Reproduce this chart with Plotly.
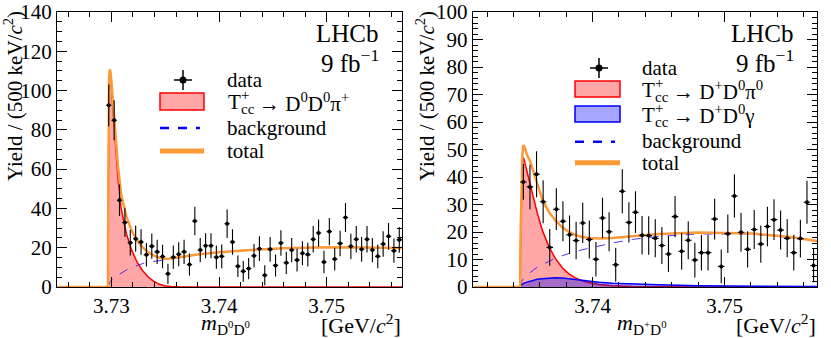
import plotly.graph_objects as go

# ---------------- data: left panel, m(D0 D0), 500 keV bins ----------------
BIN_W = 0.0005
first_bin_l = 3.72975
yield_l = [92.5, 84.9, 44.2, 32.8, 22.5, 24.6, 22.9, 16.4, 20.8, 17.9,
           15.5, 6.7, 15.2, 16.7, 17.9, 11.4, 33.6, 18.8, 21.0, 21.0,
           15.2, 15.6, 32.2, 22.9, 10.6, 8.0, 9.4, 15.9, 19.5, 6.0,
           19.2, 11.0, 22.4, 12.3, 18.8, 13.7, 17.2, 16.5, 24.3, 27.5,
           12.7, 28.2, 14.2, 22.2, 35.4, 20.7, 24.3, 19.2, 24.3, 18.8,
           15.6, 21.9, 25.8, 18.5, 24.0]
err_l = [10.6, 10.2, 8.0, 7.3, 6.5, 6.7, 6.5, 6.0, 6.4, 6.2,
         6.0, 5.2, 5.9, 6.1, 6.2, 5.6, 7.3, 6.2, 6.4, 6.4,
         5.9, 6.0, 7.2, 6.5, 5.5, 5.3, 5.4, 6.0, 6.3, 5.1,
         6.3, 5.6, 6.5, 5.7, 6.2, 5.8, 6.1, 6.0, 6.7, 6.9,
         5.7, 6.9, 5.8, 6.5, 7.4, 6.4, 6.7, 6.3, 6.7, 6.2,
         6.0, 6.5, 6.8, 6.2, 6.6]

# fit curves, left panel
curve_x_l = [3.7250, 3.72968, 3.72970, 3.72974, 3.72978, 3.72984, 3.72990, 3.7300,
             3.7302, 3.7304, 3.7306, 3.7309, 3.7314, 3.7319, 3.7324, 3.7329,
             3.7334, 3.7339, 3.7344, 3.7349, 3.7355, 3.7365, 3.7380, 3.7400,
             3.7430, 3.7460, 3.7500, 3.7535, 3.7570]
sig_l = [0, 0, 38, 88, 104, 108.5, 107, 101, 86, 70, 56, 40, 27, 18.5, 12.5,
         8.3, 5.2, 3.0, 1.5, 0.6, 0.2, 0, 0, 0, 0, 0, 0, 0, 0]
bkg_l = [0, 0, 0.5, 1.2, 1.7, 2.3, 2.8, 3.5, 4.5, 5.3, 6.0, 7.2, 8.7, 10.0, 11.0,
         11.9, 12.6, 13.1, 13.5, 13.8, 14.3, 15.3, 16.5, 17.7, 18.9, 19.7, 20.2, 20.1, 19.8]
tot_l = [0, 0, 38.5, 89.2, 105.7, 110.8, 109.8, 104.5, 90.5, 75.3, 62.0, 47.2, 35.7,
         28.5, 23.5, 20.2, 17.8, 16.1, 15.0, 14.4, 14.5, 15.3, 16.5, 17.7, 18.9,
         19.7, 20.2, 20.1, 19.8]

# ---------------- data: right panel, m(D+ D0) ----------------
first_bin_r = 3.73475
yield_r = [38.2, 36.4, 41.0, 31.0, 14.4, 28.3, 23.9, 19.0, 16.9, 23.3,
           17.3, 10.1, 25.1, 20.1, 8.1, 34.8, 23.5, 27.2, 18.8, 18.7,
           17.7, 15.1, 12.0, 25.6, 13.0, 17.0, 9.8, 12.5, 12.5, 24.7,
           7.5, 19.4, 33.1, 19.9, 13.7, 20.9, 15.6, 22.0, 24.5, 20.7,
           17.7, 12.5, 17.6, 30.8, 7.8]
err_r = [6.5, 8.1, 8.4, 7.8, 6.7, 7.6, 7.3, 7.0, 6.8, 7.3,
         6.9, 6.3, 7.4, 7.1, 6.2, 8.0, 7.3, 7.6, 7.0, 7.0,
         6.9, 6.7, 6.5, 7.5, 6.6, 6.9, 6.3, 6.5, 6.5, 7.4,
         6.1, 7.0, 7.9, 7.1, 6.6, 7.1, 6.8, 7.2, 7.4, 7.1,
         6.9, 6.5, 6.9, 7.8, 6.1]

curve_x_r = [3.7310, 3.73449, 3.73450, 3.73455, 3.73462, 3.73468, 3.73474, 3.73480,
             3.73490, 3.73505, 3.73525, 3.73550, 3.73580, 3.73620, 3.73670, 3.73720,
             3.73770, 3.73820, 3.73870, 3.73920, 3.73970, 3.74050, 3.74150, 3.74300,
             3.74500, 3.74800, 3.75200, 3.75500, 3.75700]
sig_pi_r = [0, 0, 0, 20, 37, 44.5, 47, 46.5, 44.5, 41.5, 38.5, 33.5, 27, 20.5, 14.5,
            10.2, 7.0, 4.8, 3.3, 2.3, 1.6, 0.9, 0.45, 0.15, 0.05, 0, 0, 0, 0]
sig_gam_r = [0, 0, 0, 0.6, 0.9, 1.1, 1.3, 1.4, 1.6, 1.8, 2.1, 2.4, 2.8, 3.0, 3.3,
             3.4, 3.3, 3.0, 2.7, 2.4, 2.1, 1.7, 1.4, 1.1, 0.8, 0.5, 0.3, 0.2, 0.15]
bkg_r = [0, 0, 0, 1.2, 2.0, 2.6, 3.0, 3.4, 3.9, 4.5, 5.3, 6.2, 7.2, 8.2, 9.4,
         10.5, 11.4, 12.2, 12.9, 13.5, 14.1, 15.0, 16.0, 17.3, 18.4, 19.3, 19.2, 18.0, 16.6]
tot_r = [0, 0, 0, 21.8, 39.9, 48.2, 51.3, 51.3, 50.0, 47.8, 45.9, 42.1, 37.0, 31.7,
         27.2, 24.1, 21.7, 20.0, 18.9, 18.2, 17.8, 17.6, 17.85, 18.55, 19.25, 19.8,
         19.5, 18.2, 16.75]

FONT = "Liberation Serif, Times New Roman, serif"
RED = "#ff0000"
BLUE = "#0000ff"
ORANGE = "#fb9a36"
RED_FILL = "rgba(255,0,0,0.35)"
BLUE_FILL = "rgba(0,0,255,0.35)"

W, H = 831, 338
ML, MR, MT, MB = 57, 14, 12, 51
PW, PH = W - ML - MR, H - MT - MB


def px(x):
    return (x - ML) / PW


def py(y):
    return (H - MB - y) / PH


def centres(first, n):
    return [first + BIN_W * i for i in range(n)]


fig = go.Figure()


def data_trace(x, y, e, xa, ya):
    return go.Scatter(
        x=x, y=y, mode="markers", xaxis=xa, yaxis=ya,
        marker=dict(color="black", size=4),
        error_y=dict(type="data", array=e, color="black", thickness=1.1, width=0),
        error_x=dict(type="constant", value=BIN_W / 2, color="black", thickness=1.1, width=0),
        showlegend=False,
    )


# left panel
fig.add_trace(go.Scatter(x=curve_x_l, y=sig_l, mode="lines", fill="tozeroy",
                         fillcolor=RED_FILL, line=dict(color=RED, width=1.5),
                         xaxis="x", yaxis="y", showlegend=False))
fig.add_trace(go.Scatter(x=curve_x_l[1:], y=bkg_l[1:], mode="lines",
                         line=dict(color="rgba(40,0,255,0.8)", width=1, dash="dash"),
                         xaxis="x", yaxis="y", showlegend=False))
fig.add_trace(go.Scatter(x=curve_x_l, y=tot_l, mode="lines",
                         line=dict(color=ORANGE, width=2.5),
                         xaxis="x", yaxis="y", showlegend=False))
fig.add_trace(data_trace(centres(first_bin_l, len(yield_l)), yield_l, err_l, "x", "y"))

# right panel
fig.add_trace(go.Scatter(x=curve_x_r, y=sig_pi_r, mode="lines", fill="tozeroy",
                         fillcolor=RED_FILL, line=dict(color=RED, width=1.5),
                         xaxis="x2", yaxis="y2", showlegend=False))
fig.add_trace(go.Scatter(x=curve_x_r, y=sig_gam_r, mode="lines", fill="tozeroy",
                         fillcolor=BLUE_FILL, line=dict(color=BLUE, width=1.5),
                         xaxis="x2", yaxis="y2", showlegend=False))
fig.add_trace(go.Scatter(x=curve_x_r[2:], y=bkg_r[2:], mode="lines",
                         line=dict(color="rgba(40,0,255,0.8)", width=1, dash="dash"),
                         xaxis="x2", yaxis="y2", showlegend=False))
fig.add_trace(go.Scatter(x=curve_x_r, y=tot_r, mode="lines",
                         line=dict(color=ORANGE, width=2.5),
                         xaxis="x2", yaxis="y2", showlegend=False))
fig.add_trace(data_trace(centres(first_bin_r, len(yield_r)), yield_r, err_r, "x2", "y2"))

axis_common = dict(
    showline=True, linecolor="black", linewidth=1, mirror="ticks",
    ticks="inside", ticklen=10, tickwidth=1, tickcolor="black",
    showgrid=False, zeroline=False, automargin=False, ticklabeloverflow="allow",
    tickfont=dict(family=FONT, size=21, color="black"),
)
minor_x = dict(dtick=0.002, tick0=3.73, ticklen=5, ticks="inside", tickcolor="black", showgrid=False)

fig.update_layout(
    template="none",
    width=W, height=H,
    margin=dict(l=ML, r=MR, t=MT, b=MB, autoexpand=False),
    paper_bgcolor="white", plot_bgcolor="white",
    font=dict(family=FONT, size=21, color="black"),
    showlegend=False, hovermode=False,
    xaxis=dict(domain=[0, px(402.3)], range=[3.72494, 3.75703], anchor="y",
               tick0=3.73, dtick=0.01, tickformat=".2f", minor=minor_x, **axis_common),
    yaxis=dict(domain=[0, 1], range=[0, 140], anchor="x", dtick=20,
               minor=dict(dtick=5, ticklen=5, ticks="inside", tickcolor="black", showgrid=False),
               **axis_common),
    xaxis2=dict(domain=[px(472.7), 1], range=[3.73091, 3.75701], anchor="y2",
                tick0=3.73, dtick=0.01, tickformat=".2f", minor=minor_x, **axis_common),
    yaxis2=dict(domain=[0, 1], range=[0, 100], anchor="x2", dtick=10,
                minor=dict(dtick=2, ticklen=5, ticks="inside", tickcolor="black", showgrid=False),
                **axis_common),
)

ann = []
shapes = []


def text(x, y, s, size=21, xanchor="left", yanchor="middle", angle=0):
    ann.append(dict(x=px(x), y=py(y), xref="paper", yref="paper", text=s,
                    showarrow=False, xanchor=xanchor, yanchor=yanchor, textangle=angle,
                    font=dict(family=FONT, size=size, color="black")))


def tcc_label(x, y, rest):
    text(x, y, "T")
    text(x + 13, y - 7, "+", size=15)
    text(x + 13, y + 7, "cc", size=15)
    text(x + 31, y, rest)


def legend_data(cx, cy):
    shapes.append(dict(type="line", xref="paper", yref="paper", x0=px(cx - 9), x1=px(cx + 9),
                       y0=py(cy), y1=py(cy), line=dict(color="black", width=1.5)))
    shapes.append(dict(type="line", xref="paper", yref="paper", x0=px(cx), x1=px(cx),
                       y0=py(cy - 10), y1=py(cy + 10), line=dict(color="black", width=1.5)))
    shapes.append(dict(type="circle", xref="paper", yref="paper", x0=px(cx - 3.5), x1=px(cx + 3.5),
                       y0=py(cy - 3.5), y1=py(cy + 3.5), fillcolor="black", line=dict(color="black", width=0)))


def legend_box(x0, x1, y0, y1, fill, line):
    shapes.append(dict(type="rect", xref="paper", yref="paper", x0=px(x0), x1=px(x1),
                       y0=py(y1), y1=py(y0), fillcolor=fill, line=dict(color=line, width=1.5)))


def legend_line(x0, x1, y, color, width, dash="solid"):
    shapes.append(dict(type="line", xref="paper", yref="paper", x0=px(x0), x1=px(x1),
                       y0=py(y), y1=py(y), line=dict(color=color, width=width, dash=dash)))


# left legend
legend_data(183, 80)
text(225, 80, "data")
legend_box(160, 204, 93, 110, RED_FILL, RED)
tcc_label(226, 102, "→ D<sup>0</sup>D<sup>0</sup>π<sup>+</sup>")
legend_line(160, 200, 128, BLUE, 2.5, "dash")
text(225, 128, "background")
legend_line(160, 204, 151, ORANGE, 5)
text(225, 151, "total")

text(381, 33, "LHCb", size=25, xanchor="right")
text(381, 61, "9 fb<sup>−1</sup>", size=25, xanchor="right")

# right legend
legend_data(599, 68)
text(640, 68, "data")
legend_box(575, 620, 81, 97, RED_FILL, RED)
tcc_label(640, 90, "→ D<sup>+</sup>D<sup>0</sup>π<sup>0</sup>")
legend_box(575, 620, 106, 122, BLUE_FILL, BLUE)
tcc_label(640, 115, "→ D<sup>+</sup>D<sup>0</sup>γ")
legend_line(575, 615, 141.7, BLUE, 2.5, "dash")
text(640, 141, "background")
legend_line(575, 620, 162.7, ORANGE, 5)
text(640, 163, "total")

text(796, 33, "LHCb", size=25, xanchor="right")
text(796, 61, "9 fb<sup>−1</sup>", size=25, xanchor="right")

# axis titles
ytitle = "Yield / (500 keV/<i>c</i><sup>2</sup>)"
text(14, 96, ytitle, size=21, xanchor="center", angle=-90)
text(426, 96, ytitle, size=21, xanchor="center", angle=-90)
text(225, 324, "<i>m</i><sub>D<sup>0</sup>D<sup>0</sup></sub>", size=22, xanchor="center")
text(403, 324, "[GeV/<i>c</i><sup>2</sup>]", size=22, xanchor="right")
text(642, 324, "<i>m</i><sub>D<sup>+</sup>D<sup>0</sup></sub>", size=22, xanchor="center")
text(818, 324, "[GeV/<i>c</i><sup>2</sup>]", size=22, xanchor="right")

fig.update_layout(annotations=ann, shapes=shapes)

# the page body has a default 8px margin; drop it so the figure fills the window
fig.write_html("out.html", config={"displayModeBar": False},
               post_script="document.body.style.margin = '0px';")
